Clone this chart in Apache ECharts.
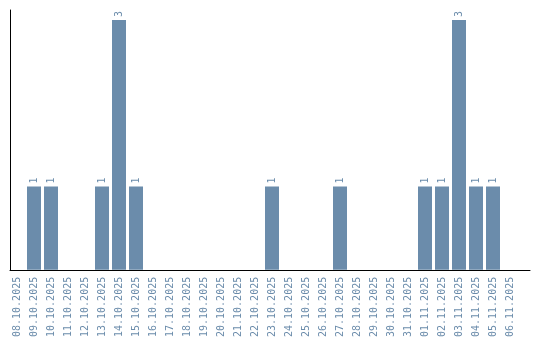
<!DOCTYPE html>
<html><head><meta charset="utf-8">
<script src="https://cdn.jsdelivr.net/npm/echarts@6/dist/echarts.min.js"></script>
<style>html,body{margin:0;padding:0;background:#fff}#c{width:540px;height:340px}</style>
</head><body><div id="c"></div>
<script>
const categories = ["08.10.2025","09.10.2025","10.10.2025","11.10.2025","12.10.2025","13.10.2025","14.10.2025","15.10.2025","16.10.2025","17.10.2025","18.10.2025","19.10.2025","20.10.2025","21.10.2025","22.10.2025","23.10.2025","24.10.2025","25.10.2025","26.10.2025","27.10.2025","28.10.2025","29.10.2025","30.10.2025","31.10.2025","01.11.2025","02.11.2025","03.11.2025","04.11.2025","05.11.2025","06.11.2025"];
const values = [0,1,1,0,0,1,3,1,0,0,0,0,0,0,0,1,0,0,0,1,0,0,0,0,1,1,3,1,1,0];
const yMax = 3.12;

const color = '#6b8cab';
const font = 'DejaVu Sans Mono';
const chart = echarts.init(document.getElementById('c'), null, {renderer:'canvas'});
chart.setOption({
  animation:false,
  grid:[
    {left:8.5, top:10, width:510, height:260},
    {left:10, top:10, right:10, height:260}
  ],
  xAxis:[
    {type:'category', gridIndex:0, data:categories, boundaryGap:true,
     axisLine:{show:false}, axisTick:{show:false},
     axisLabel:{rotate:90, interval:0, color:color, fontFamily:font, fontSize:10, margin:7}},
    {type:'value', gridIndex:1, min:0, max:1, axisLine:{show:true, lineStyle:{color:'#000', width:1}},
     axisTick:{show:false}, axisLabel:{show:false}, splitLine:{show:false}}
  ],
  yAxis:[
    {type:'value', gridIndex:0, min:0, max:yMax, axisLine:{show:false}, axisTick:{show:false},
     axisLabel:{show:false}, splitLine:{show:false}},
    {type:'value', gridIndex:1, min:0, max:1, axisLine:{show:true, lineStyle:{color:'#000', width:1}},
     axisTick:{show:false}, axisLabel:{show:false}, splitLine:{show:false}}
  ],
  series:[{
    type:'bar', xAxisIndex:0, yAxisIndex:0, data:values, barWidth:14,
    itemStyle:{color:color},
    label:{show:true, position:'top', rotate:90, align:'left', verticalAlign:'middle', distance:3,
      color:color, fontFamily:font, fontSize:10,
      formatter:function(p){return p.value>0?String(p.value):'';}}
  }]
});
</script></body></html>
